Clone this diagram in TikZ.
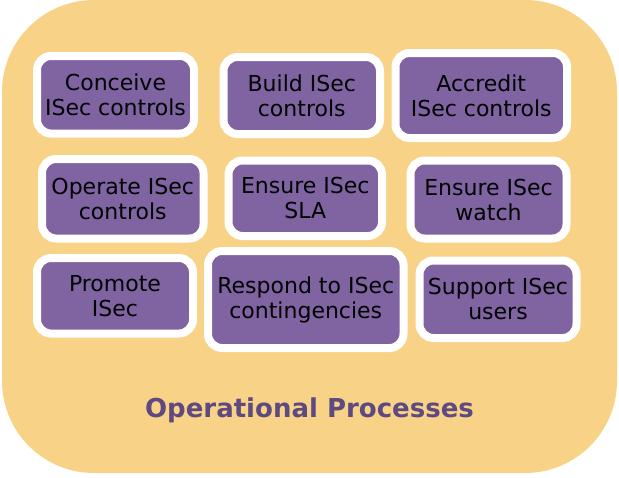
\documentclass[tikz,border=0pt]{standalone}
\usepackage{fontspec}
\setmainfont{DejaVu Sans}
\definecolor{bgyellow}{HTML}{F8D387}
\definecolor{boxpurple}{HTML}{8064A2}
\definecolor{titlepurple}{HTML}{5E4A80}
\begin{document}
\begin{tikzpicture}[x=1pt,y=-1pt,
  procbox/.style={draw=white, line width=8pt, fill=boxpurple, rounded corners=14pt,
    inner sep=0pt, align=center, text=black,
    font=\fontsize{22}{25}\selectfont},
  ]
\useasboundingbox (0,0) rectangle (619,477);
\node[draw=none, fill=bgyellow, rounded corners=92pt, minimum width=615pt, minimum height=473pt, inner sep=0pt] (bg) at (309.5,236.5) {};
% row 1
\node[procbox, minimum width=157pt, minimum height=77.5pt] (conceive) at (115.5,94.75) {Conceive\\ISec controls};
\node[procbox, minimum width=156.5pt, minimum height=77pt] (build) at (301.75,95.5) {Build ISec\\controls};
\node[procbox, minimum width=171.5pt, minimum height=85pt] (accredit) at (481.25,95.5) {Accredit\\ISec controls};
% row 2
\node[procbox, minimum width=161.5pt, minimum height=79.5pt] (operate) at (122.75,198.75) {Operate ISec\\controls};
\node[procbox, minimum width=153.5pt, minimum height=75.5pt] (sla) at (305.25,198.25) {Ensure ISec\\SLA};
\node[procbox, minimum width=156pt, minimum height=78pt] (watch) at (488.5,199.5) {Ensure ISec\\watch};
% row 3
\node[procbox, minimum width=156pt, minimum height=75.5pt] (promote) at (115,295.75) {Promote\\ISec};
\node[procbox, minimum width=195.5pt, minimum height=97pt] (respond) at (305.75,299.5) {Respond to ISec\\contingencies};
\node[procbox, minimum width=157pt, minimum height=77.5pt] (support) at (498,299.25) {Support ISec\\users};
% title
\node[text=titlepurple, font=\fontsize{26}{30}\bfseries\selectfont, inner sep=0pt] (title) at (309.5,410) {Operational Processes};
\end{tikzpicture}
\end{document}
